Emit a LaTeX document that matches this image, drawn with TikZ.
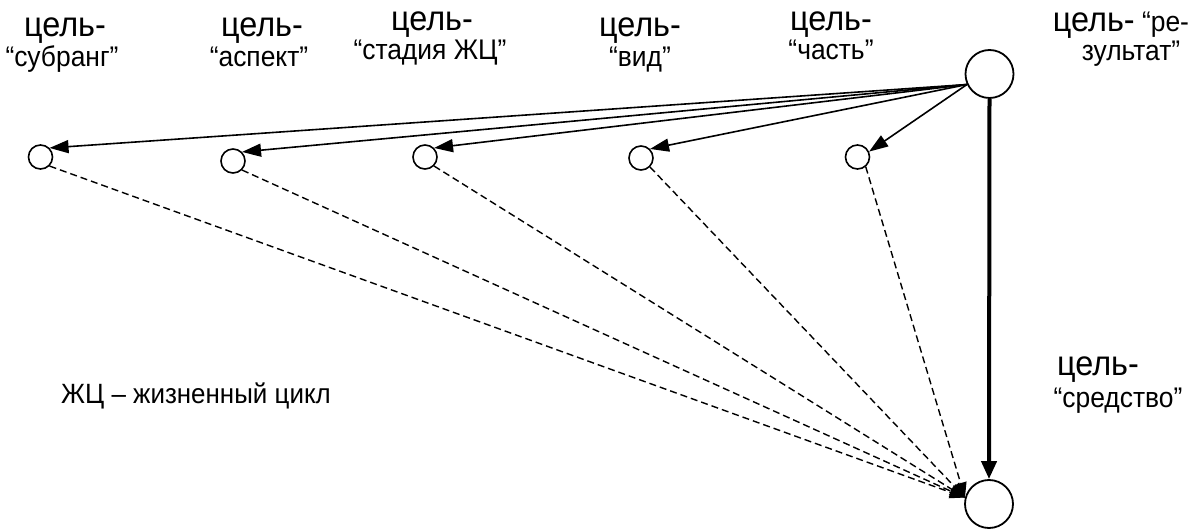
\documentclass[tikz,border=0pt]{standalone}
\usepackage{fontspec}
\setmainfont{Liberation Sans}[FakeStretch=0.93]
\usetikzlibrary{arrows.meta}
\tikzset{
  big/.style={circle,draw,line width=1.8bp,minimum size=48bp,inner sep=0},
  small/.style={circle,draw,line width=1.6bp,minimum size=24bp,inner sep=0},
  lab/.style={anchor=base,inner sep=0,font=\fontsize{35}{35}\selectfont},
  lab2/.style={anchor=base,inner sep=0,font=\fontsize{28.5}{28.5}\selectfont},
  solidarr/.style={line width=1.6bp,-{Triangle[length=19bp,width=13bp]}},
  thickarr/.style={line width=4bp,-{Triangle[length=18bp,width=15bp]}},
  dasharr/.style={line width=1.4bp,dash pattern=on 7bp off 4bp,-{Triangle[length=15bp,width=12bp]}},
}
\begin{document}
\begin{tikzpicture}[x=1bp,y=-1bp]
\useasboundingbox (0,0) rectangle (1199,529);
% circles
\node[big] (R) at (989.5,74) {};
\node[big] (S) at (989,504) {};
\node[small] (c1) at (40.5,157) {};
\node[small] (c2) at (233,161) {};
\node[small] (c3) at (425,157) {};
\node[small] (c4) at (641,158) {};
\node[small] (c5) at (857.5,157) {};
% labels
\node[lab] (l1a) at (65,37) {цель-};
\node[lab2] (l1b) at (62,67) {“субранг”};
\node[lab] (l2a) at (262,37) {цель-};
\node[lab2] (l2b) at (259,67) {“аспект”};
\node[lab] (l3a) at (432,31) {цель-};
\node[lab2] (l3b) at (430,60) {“стадия ЖЦ”};
\node[lab] (l4a) at (640,37) {цель-};
\node[lab2] (l4b) at (640,67) {“вид”};
\node[lab] (l5a) at (831,31) {цель-};
\node[lab2] (l5b) at (831,60) {“часть”};
\node[anchor=base,inner sep=0] (l6a) at (1121,32) {\fontsize{35}{35}\selectfont цель-\fontsize{28.5}{28.5}\selectfont{} “ре-};
\node[lab2] (l6b) at (1131,61) {зультат”};
\node[lab] (l7a) at (1098,376) {цель-};
\node[lab2] (l7b) at (1118,407) {“средство”};
\node[anchor=base west,inner sep=0,font=\fontsize{28}{28}\selectfont] (note) at (61,403) {ЖЦ – жизненный цикл};
% solid arrows
\draw[solidarr] (R.205) -- (c1.45);
\draw[solidarr] (R.205) -- (c2.45);
\draw[solidarr] (R.205) -- (c3.45);
\draw[solidarr] (R.205) -- (c4.45);
\draw[solidarr] (R.205) -- (c5.25);
\draw[thickarr] (R.south) -- (S.north);
% dashed arrows
\draw[dasharr] (c1.-45) -- (S.165);
\draw[dasharr] (c2.-45) -- (S.165);
\draw[dasharr] (c3.-45) -- (S.165);
\draw[dasharr] (c4.-45) -- (S.165);
\draw[dasharr] (c5.-50) -- (S.165);
\end{tikzpicture}
\end{document}
